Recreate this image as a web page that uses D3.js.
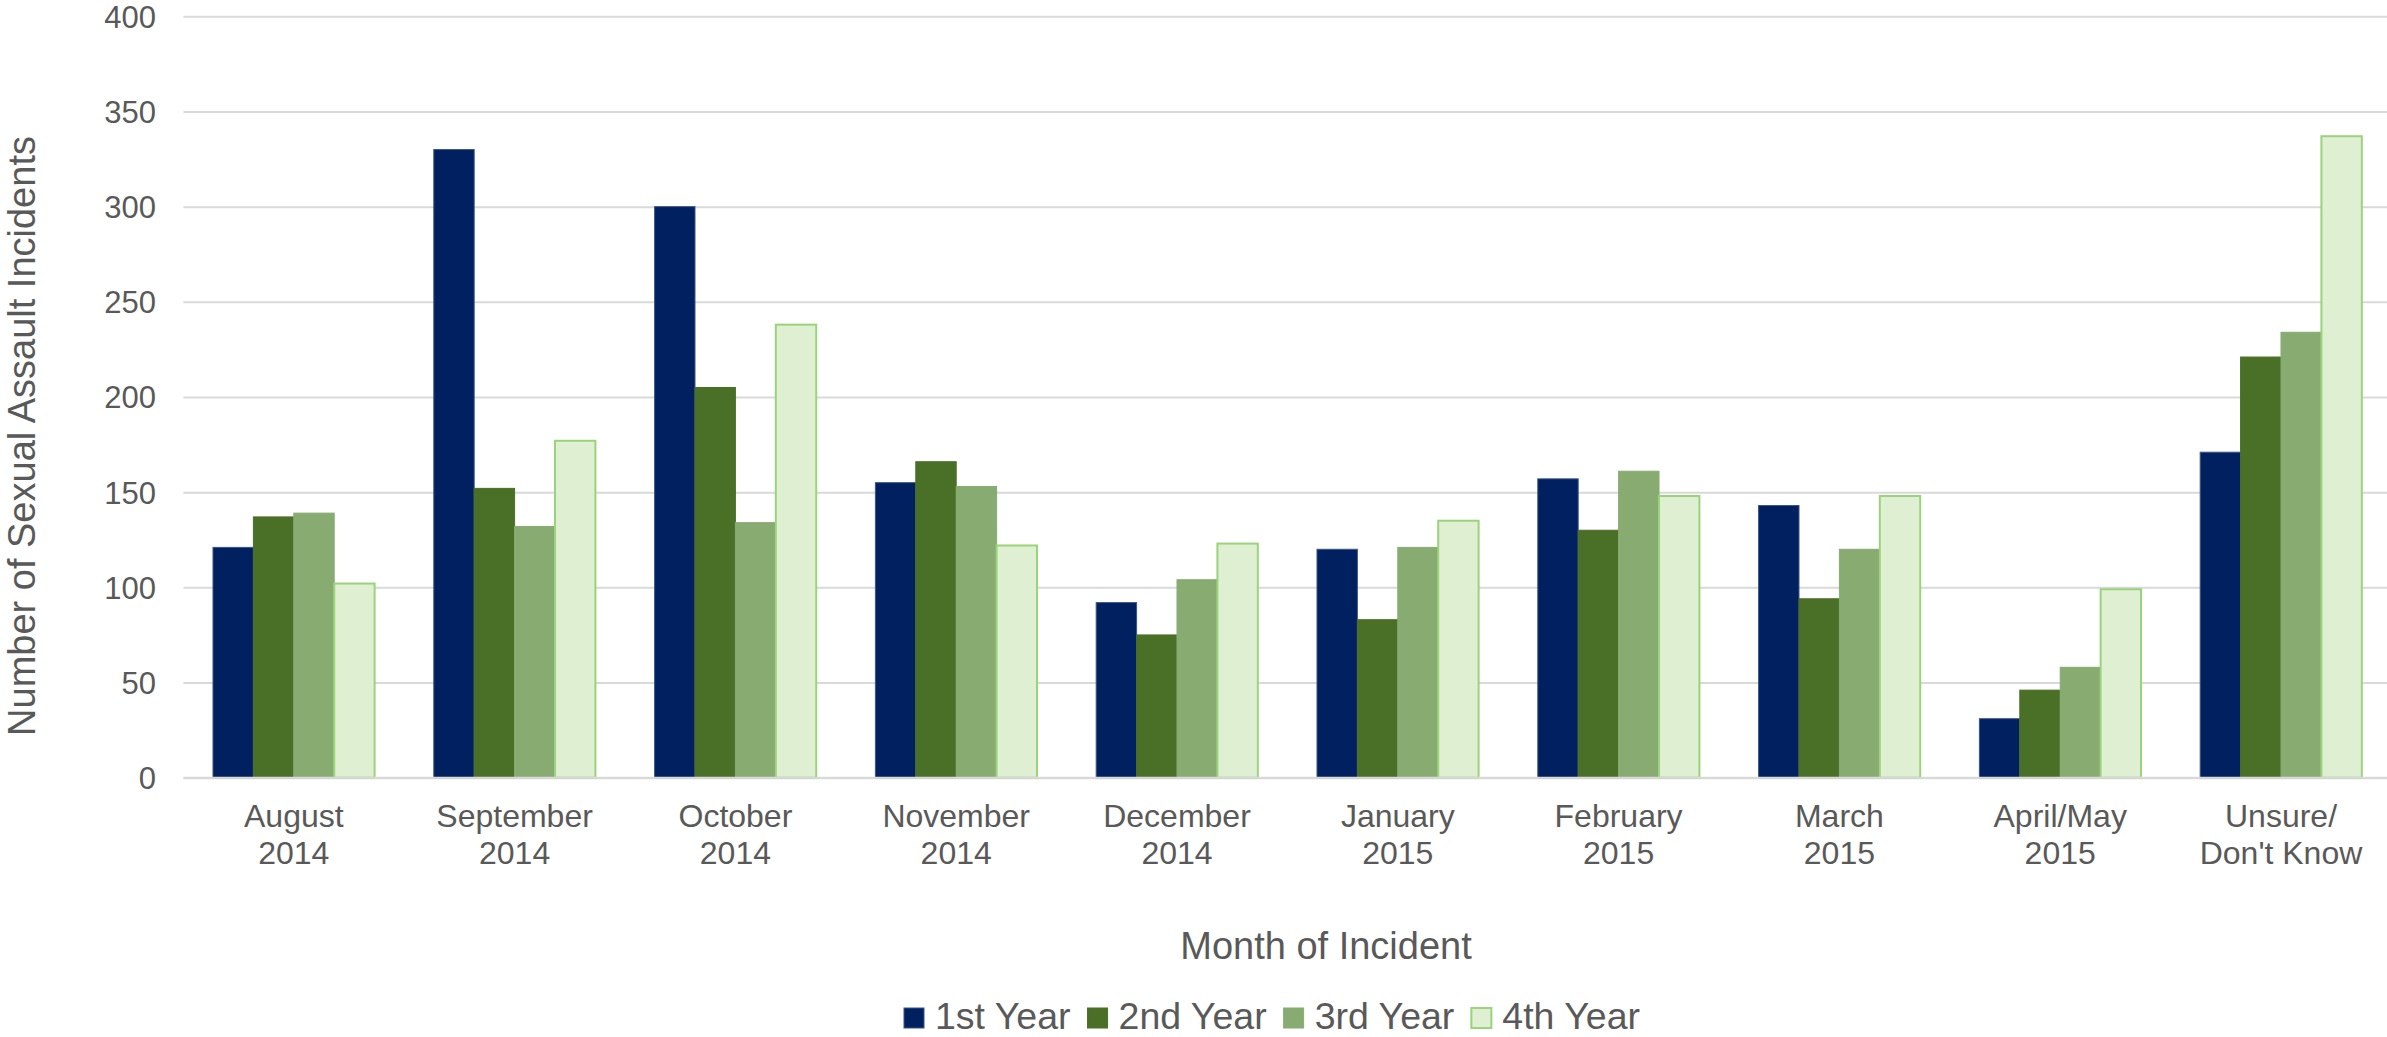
<!DOCTYPE html>
<html>
<head>
<meta charset="utf-8">
<script src="https://cdn.jsdelivr.net/npm/d3@7"></script>
<style>
  html, body { margin: 0; padding: 0; background: #ffffff; }
  svg { display: block; }
  text { font-family: "Liberation Sans", Arial, sans-serif; fill: #595959; }
</style>
</head>
<body>
<svg id="chart" width="2387" height="1037"></svg>
<script>
// Month labels (two lines each)
const months = [
  ["August", "2014"], ["September", "2014"], ["October", "2014"],
  ["November", "2014"], ["December", "2014"], ["January", "2015"],
  ["February", "2015"], ["March", "2015"], ["April/May", "2015"],
  ["Unsure/", "Don't Know"]
];
const seriesNames = ["1st Year", "2nd Year", "3rd Year", "4th Year"];

// Number of incidents per month, by class year
const firstYear  = [121, 330, 300, 155,  92, 120, 157, 143, 31, 171];
const secondYear = [137, 152, 205, 166,  75,  83, 130,  94, 46, 221];
const thirdYear  = [139, 132, 134, 153, 104, 121, 161, 120, 58, 234];
const fourthYear = [102, 177, 238, 122, 123, 135, 148, 148, 99, 337];

const yTicks = [0, 50, 100, 150, 200, 250, 300, 350, 400];

const fills   = ["#012060", "#4a7027", "#88ab72", "#dfefd2"];
const strokes = ["#3d5585", "#4a7027", "#88ab72", "#9bd27c"];

const seriesValues = [firstYear, secondYear, thirdYear, fourthYear];
const rows = months.map((m, i) => ({
  key: m.join(" "),
  label: m,
  values: seriesNames.map((s, j) => ({ series: s, idx: j, value: seriesValues[j][i] }))
}));

const svg = d3.select("#chart");
const plotLeft = 183.4, plotRight = 2391.4, plotTop = 16.3, plotBottom = 777.7;

const x0 = d3.scaleBand()
  .domain(rows.map(r => r.key))
  .range([plotLeft, plotRight])
  .paddingInner(0.268)
  .paddingOuter(0.134);

const x1 = d3.scaleBand()
  .domain(seriesNames)
  .range([0, x0.bandwidth()]);

const y = d3.scaleLinear().domain([0, 400]).range([plotBottom, plotTop]);

// Horizontal gridlines
const grid = svg.append("g")
  .attr("transform", `translate(${plotLeft},0)`)
  .call(d3.axisLeft(y).tickValues(yTicks).tickSize(-(plotRight - plotLeft)).tickFormat(""));
grid.select(".domain").remove();
grid.selectAll(".tick line").attr("stroke", "#d9d9d9").attr("stroke-width", 2);

// Y tick labels
const yAxis = svg.append("g")
  .attr("transform", "translate(156,0)")
  .call(d3.axisLeft(y).tickValues(yTicks).tickSize(0).tickPadding(0));
yAxis.select(".domain").remove();
yAxis.selectAll(".tick text")
  .attr("font-size", 31)
  .attr("fill", "#595959")
  .style("font-family", '"Liberation Sans", Arial, sans-serif')
  .attr("dy", "0.35em");

// Bars
const groups = svg.append("g").selectAll("g")
  .data(rows)
  .join("g")
  .attr("transform", d => `translate(${x0(d.key)},0)`);

groups.selectAll("rect")
  .data(d => d.values)
  .join("rect")
  .attr("x", d => x1(d.series))
  .attr("y", d => y(d.value))
  .attr("width", x1.bandwidth())
  .attr("height", d => y(0) - y(d.value))
  .attr("fill", d => fills[d.idx])
  .attr("stroke", d => strokes[d.idx])
  .attr("stroke-width", d => d.idx === 3 ? 2 : 1);

// Baseline
svg.append("line")
  .attr("x1", plotLeft).attr("x2", plotRight)
  .attr("y1", y(0)).attr("y2", y(0))
  .attr("stroke", "#d9d9d9").attr("stroke-width", 2);

// X category labels
const xLabels = svg.append("g").selectAll("text")
  .data(rows)
  .join("text")
  .attr("x", d => x0(d.key) + x0.bandwidth() / 2)
  .attr("y", 827)
  .attr("text-anchor", "middle")
  .attr("font-size", 32);
xLabels.selectAll("tspan")
  .data(d => d.label)
  .join("tspan")
  .attr("x", function () { return d3.select(this.parentNode).attr("x"); })
  .attr("dy", (d, i) => i === 0 ? 0 : 36.6)
  .text(d => d);

// Axis titles
svg.append("text")
  .attr("x", 1326)
  .attr("y", 959)
  .attr("text-anchor", "middle")
  .attr("font-size", 38)
  .text("Month of Incident");

svg.append("text")
  .attr("transform", "translate(35,436) rotate(-90)")
  .attr("text-anchor", "middle")
  .attr("font-size", 38)
  .text("Number of Sexual Assault Incidents");

// Legend
const legend = svg.append("g");
let lx = 904;
seriesNames.forEach((name, i) => {
  legend.append("rect")
    .attr("x", lx).attr("y", 1008)
    .attr("width", 20).attr("height", 20)
    .attr("fill", fills[i])
    .attr("stroke", strokes[i])
    .attr("stroke-width", i === 3 ? 2 : 1);
  const t = legend.append("text")
    .attr("x", lx + 31)
    .attr("y", 1029)
    .attr("font-size", 37.5)
    .text(name);
  lx += 31 + t.node().getComputedTextLength() + 17;
});
</script>
</body>
</html>
